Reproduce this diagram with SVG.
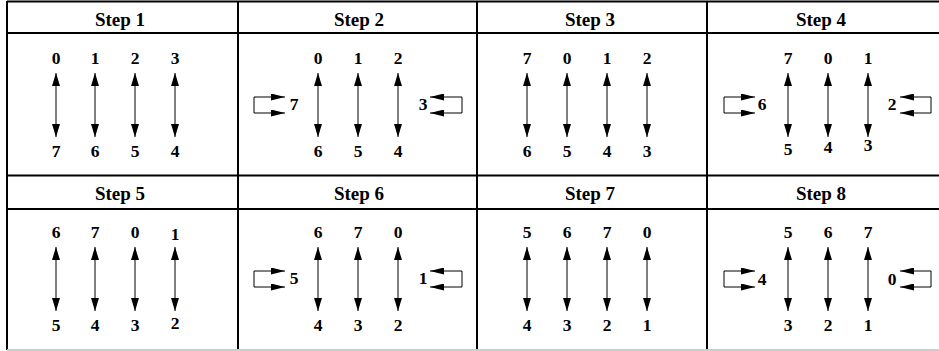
<svg xmlns="http://www.w3.org/2000/svg" width="939" height="351" viewBox="0 0 939 351">
<style>
.grid{stroke:#000;stroke-width:2;fill:none}
text{font-family:'Liberation Serif','Times New Roman',Times,serif;font-weight:bold;text-anchor:middle;fill:#000}
.hd{font-size:19px}
.n{font-size:17.5px}
.v{stroke:#000;stroke-width:1;fill:none;marker-start:url(#ah);marker-end:url(#ah)}
.lp{stroke:#000;stroke-width:1;fill:none;marker-start:url(#ah2);marker-end:url(#ah2)}
</style>
<defs>
<marker id="ah" viewBox="0 0 13 8" refX="13" refY="4" markerWidth="13" markerHeight="8" markerUnits="userSpaceOnUse" orient="auto-start-reverse"><path d="M0,0 L13,4 L0,8 z" fill="#000"/></marker>
<marker id="ah2" viewBox="0 0 14 7" refX="14" refY="3.5" markerWidth="14" markerHeight="7" markerUnits="userSpaceOnUse" orient="auto-start-reverse"><path d="M0,0 L14,3.5 L0,7 z" fill="#000"/></marker>
</defs>
<rect width="939" height="351" fill="#fff"/>
<g id="grid">
<path class="grid" d="M7,1.5 H939 M7,33 H939 M7,175.5 H939 M7,209 H939 M7,1 V350 M238,1 V350 M477,1 V350 M707,1 V350"/>
<path d="M7,350 H939" stroke="#ccc" stroke-width="2"/>
</g>
<g id="step1">
<text class="hd" x="120" y="26">Step 1</text>
<text class="n" x="56" y="64">0</text><text class="n" x="95" y="64">1</text><text class="n" x="135" y="64">2</text><text class="n" x="175" y="64">3</text>
<text class="n" x="56" y="157">7</text><text class="n" x="95" y="157">6</text><text class="n" x="135" y="157">5</text><text class="n" x="175" y="157">4</text>
</g>
<g id="step2">
<text class="hd" x="359" y="26">Step 2</text>
<text class="n" x="318" y="64">0</text><text class="n" x="358" y="64">1</text><text class="n" x="398" y="64">2</text>
<text class="n" x="318" y="157">6</text><text class="n" x="358" y="157">5</text><text class="n" x="398" y="157">4</text>
<text class="n" x="294" y="110">7</text><text class="n" x="423" y="110">3</text>
</g>
<g id="step3">
<text class="hd" x="590" y="26">Step 3</text>
<text class="n" x="527" y="64">7</text><text class="n" x="567" y="64">0</text><text class="n" x="607" y="64">1</text><text class="n" x="647" y="64">2</text>
<text class="n" x="527" y="157">6</text><text class="n" x="567" y="157">5</text><text class="n" x="607" y="157">4</text><text class="n" x="647" y="157">3</text>
</g>
<g id="step4">
<text class="hd" x="821" y="26">Step 4</text>
<text class="n" x="788" y="64">7</text><text class="n" x="828" y="64">0</text><text class="n" x="868" y="64">1</text>
<text class="n" x="788" y="155">5</text><text class="n" x="828" y="153">4</text><text class="n" x="868" y="151">3</text>
<text class="n" x="762" y="110">6</text><text class="n" x="892" y="110">2</text>
</g>
<g id="step5">
<text class="hd" x="120" y="200">Step 5</text>
<text class="n" x="56" y="238">6</text><text class="n" x="95" y="238">7</text><text class="n" x="135" y="238">0</text><text class="n" x="175" y="240">1</text>
<text class="n" x="56" y="331">5</text><text class="n" x="95" y="331">4</text><text class="n" x="135" y="331">3</text><text class="n" x="175" y="329">2</text>
</g>
<g id="step6">
<text class="hd" x="359" y="200">Step 6</text>
<text class="n" x="318" y="238">6</text><text class="n" x="358" y="238">7</text><text class="n" x="398" y="238">0</text>
<text class="n" x="318" y="331">4</text><text class="n" x="358" y="331">3</text><text class="n" x="398" y="331">2</text>
<text class="n" x="294" y="284">5</text><text class="n" x="423" y="284">1</text>
</g>
<g id="step7">
<text class="hd" x="590" y="200">Step 7</text>
<text class="n" x="527" y="238">5</text><text class="n" x="567" y="238">6</text><text class="n" x="607" y="238">7</text><text class="n" x="647" y="238">0</text>
<text class="n" x="527" y="331">4</text><text class="n" x="567" y="331">3</text><text class="n" x="607" y="331">2</text><text class="n" x="647" y="331">1</text>
</g>
<g id="step8">
<text class="hd" x="821" y="200">Step 8</text>
<text class="n" x="788" y="238">5</text><text class="n" x="828" y="238">6</text><text class="n" x="868" y="238">7</text>
<text class="n" x="788" y="331">3</text><text class="n" x="828" y="331">2</text><text class="n" x="868" y="331">1</text>
<text class="n" x="762" y="285">4</text><text class="n" x="892" y="285">0</text>
</g>
<g id="connectors">
<line class="v" x1="56" y1="73" x2="56" y2="137"/><line class="v" x1="95" y1="73" x2="95" y2="137"/><line class="v" x1="135" y1="73" x2="135" y2="137"/><line class="v" x1="175" y1="73" x2="175" y2="137"/>
<line class="v" x1="318" y1="73" x2="318" y2="137"/><line class="v" x1="358" y1="73" x2="358" y2="137"/><line class="v" x1="398" y1="73" x2="398" y2="137"/>
<path class="lp" d="M285,97 H254 V113 H285"/><path class="lp" d="M430,97 H462 V113 H430"/>
<line class="v" x1="527" y1="73" x2="527" y2="137"/><line class="v" x1="567" y1="73" x2="567" y2="137"/><line class="v" x1="607" y1="73" x2="607" y2="137"/><line class="v" x1="647" y1="73" x2="647" y2="137"/>
<line class="v" x1="788" y1="73" x2="788" y2="137"/><line class="v" x1="828" y1="73" x2="828" y2="137"/><line class="v" x1="868" y1="73" x2="868" y2="137"/>
<path class="lp" d="M755,97 H724 V113 H755"/><path class="lp" d="M900,97 H931 V113 H900"/>
<line class="v" x1="56" y1="247" x2="56" y2="311"/><line class="v" x1="95" y1="247" x2="95" y2="311"/><line class="v" x1="135" y1="247" x2="135" y2="311"/><line class="v" x1="175" y1="247" x2="175" y2="311"/>
<line class="v" x1="318" y1="247" x2="318" y2="311"/><line class="v" x1="358" y1="247" x2="358" y2="311"/><line class="v" x1="398" y1="247" x2="398" y2="311"/>
<path class="lp" d="M285,271 H254 V287 H285"/><path class="lp" d="M430,271 H462 V287 H430"/>
<line class="v" x1="527" y1="247" x2="527" y2="311"/><line class="v" x1="567" y1="247" x2="567" y2="311"/><line class="v" x1="607" y1="247" x2="607" y2="311"/><line class="v" x1="647" y1="247" x2="647" y2="311"/>
<line class="v" x1="788" y1="247" x2="788" y2="311"/><line class="v" x1="828" y1="247" x2="828" y2="311"/><line class="v" x1="868" y1="247" x2="868" y2="311"/>
<path class="lp" d="M755,271 H724 V287 H755"/><path class="lp" d="M900,271 H931 V287 H900"/>
</g>
</svg>
